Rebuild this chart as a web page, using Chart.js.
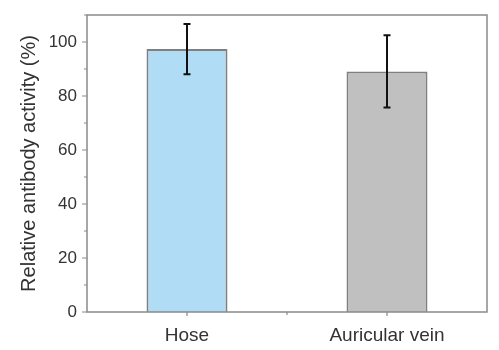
<!DOCTYPE html>
<html>
<head>
<meta charset="utf-8">
<script src="https://cdn.jsdelivr.net/npm/chart.js@4/dist/chart.umd.min.js"></script>
<style>
    html, body { margin: 0; padding: 0; background: #fff; }
    #wrap { width: 499px; height: 350px; }
</style>
</head>
<body>
<div id="wrap"><canvas id="chart"></canvas></div>
<script>
// Data
const categories = ['Hose', 'Auricular vein'];
const activity = [97.4, 89.1];
const activityErr = [9.3, 13.4];
const barColors = ['rgb(176, 221, 245)', 'rgb(192, 192, 192)'];
const yTicksMajor = [0, 20, 40, 60, 80, 100];

const axisColor = '#8a8a8a';
const textColor = '#333';
const fontFamily = '"Liberation Sans", Arial, sans-serif';

// Frame, tick marks and error bars
const decorations = {
    id: 'decorations',
    afterDatasetsDraw(chart) {
        const ctx = chart.ctx;
        const area = chart.chartArea;
        const x = chart.scales.x;
        const y = chart.scales.y;

        // error bars
        const meta = chart.getDatasetMeta(0);
        ctx.save();
        ctx.strokeStyle = '#111';
        ctx.lineWidth = 2;
        meta.data.forEach((bar, i) => {
            const cx = bar.x;
            const top = y.getPixelForValue(activity[i] + activityErr[i]);
            const bot = y.getPixelForValue(activity[i] - activityErr[i]);
            ctx.beginPath();
            ctx.moveTo(cx, top);
            ctx.lineTo(cx, bot);
            ctx.moveTo(cx - 3.5, top);
            ctx.lineTo(cx + 3.5, top);
            ctx.moveTo(cx - 3.5, bot);
            ctx.lineTo(cx + 3.5, bot);
            ctx.stroke();
        });
        ctx.restore();

        // frame
        ctx.save();
        ctx.strokeStyle = axisColor;
        ctx.lineWidth = 1.5;
        ctx.strokeRect(area.left, area.top, area.right - area.left, area.bottom - area.top);

        // y ticks, major and minor
        ctx.lineWidth = 1.2;
        ctx.beginPath();
        y.ticks.forEach(t => {
            const py = y.getPixelForValue(t.value);
            const len = yTicksMajor.includes(t.value) ? 5 : 3;
            ctx.moveTo(area.left - len, py);
            ctx.lineTo(area.left, py);
        });

        // x ticks at categories, minor between them
        categories.forEach((c, i) => {
            const px = x.getPixelForValue(i);
            ctx.moveTo(px, area.bottom);
            ctx.lineTo(px, area.bottom + 4);
        });
        for (let i = 0; i < categories.length - 1; i++) {
            const px = x.getPixelForValue(i + 0.5);
            ctx.moveTo(px, area.bottom);
            ctx.lineTo(px, area.bottom + 3);
        }
        ctx.stroke();
        ctx.restore();
    }
};

new Chart(document.getElementById('chart'), {
    type: 'bar',
    data: {
        labels: categories,
        datasets: [{
            data: activity,
            backgroundColor: barColors,
            borderColor: 'rgb(128, 128, 128)',
            borderWidth: 2,
            barPercentage: 0.81,
            categoryPercentage: 0.5
        }]
    },
    options: {
        responsive: true,
        maintainAspectRatio: false,
        animation: false,
        layout: { padding: { top: 15, right: 12, left: 0, bottom: 0 } },
        plugins: {
            legend: { display: false },
            tooltip: { enabled: false }
        },
        scales: {
            x: {
                grid: { display: false, drawTicks: false },
                border: { display: false },
                ticks: {
                    padding: 12,
                    color: textColor,
                    font: { family: fontFamily, size: 19 }
                },
                afterFit(scale) { scale.height = 38; }
            },
            y: {
                min: 0,
                max: 110,
                grid: { display: false, drawTicks: false },
                border: { display: false },
                ticks: {
                    stepSize: 10,
                    padding: 10,
                    color: textColor,
                    font: { family: fontFamily, size: 17 },
                    callback: v => yTicksMajor.includes(v) ? v : ''
                },
                title: {
                    display: true,
                    text: 'Relative antibody activity (%)',
                    color: textColor,
                    font: { family: fontFamily, size: 20 },
                    padding: { top: 17, bottom: 0 }
                },
                afterFit(scale) {
                    scale.width = 87;
                    scale.paddingTop = 0;
                    scale.paddingBottom = 0;
                }
            }
        }
    },
    plugins: [decorations]
});
</script>
</body>
</html>
